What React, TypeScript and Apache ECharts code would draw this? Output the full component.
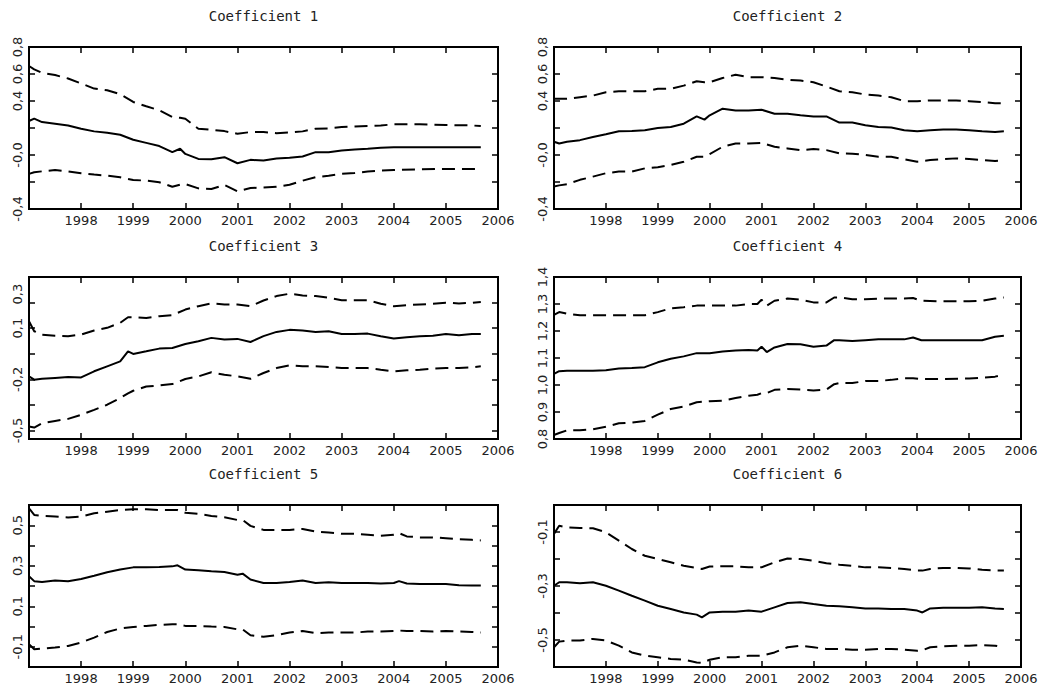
import React, { useEffect, useRef } from 'react';
import * as echarts from 'echarts';

// ---------- Coefficient 1 ----------
const dates1 = [1997.0, 1997.1, 1997.25, 1997.5, 1997.75, 1998.0, 1998.25, 1998.5, 1998.75, 1999.0, 1999.25, 1999.5, 1999.75, 1999.9, 2000.0, 2000.25, 2000.5, 2000.75, 2001.0, 2001.25, 2001.5, 2001.75, 2002.0, 2002.25, 2002.5, 2002.75, 2003.0, 2003.25, 2003.5, 2003.75, 2004.0, 2004.5, 2005.0, 2005.5, 2005.67];
const mid1 = [0.252, 0.269, 0.244, 0.232, 0.219, 0.195, 0.175, 0.165, 0.15, 0.113, 0.09, 0.066, 0.021, 0.046, 0.008, -0.029, -0.031, -0.016, -0.061, -0.036, -0.041, -0.026, -0.021, -0.011, 0.021, 0.021, 0.033, 0.041, 0.046, 0.053, 0.058, 0.058, 0.058, 0.058, 0.058];
const up1 = [0.659, 0.634, 0.609, 0.592, 0.567, 0.53, 0.492, 0.48, 0.45, 0.393, 0.361, 0.331, 0.281, 0.276, 0.269, 0.195, 0.187, 0.177, 0.157, 0.17, 0.17, 0.162, 0.167, 0.175, 0.195, 0.197, 0.207, 0.212, 0.214, 0.219, 0.227, 0.227, 0.222, 0.219, 0.214];
const lo1 = [-0.14, -0.128, -0.121, -0.111, -0.121, -0.135, -0.145, -0.153, -0.165, -0.185, -0.19, -0.202, -0.235, -0.22, -0.215, -0.247, -0.252, -0.222, -0.269, -0.245, -0.24, -0.235, -0.22, -0.19, -0.165, -0.153, -0.14, -0.133, -0.123, -0.116, -0.111, -0.106, -0.103, -0.103, -0.103];

// ---------- Coefficient 2 ----------
const dates2 = [1997.0, 1997.1, 1997.25, 1997.5, 1997.75, 1998.0, 1998.25, 1998.5, 1998.75, 1999.0, 1999.25, 1999.5, 1999.75, 1999.9, 2000.0, 2000.25, 2000.5, 2000.75, 2001.0, 2001.25, 2001.5, 2001.75, 2002.0, 2002.25, 2002.5, 2002.75, 2003.0, 2003.25, 2003.5, 2003.75, 2004.0, 2004.25, 2004.5, 2004.75, 2005.0, 2005.25, 2005.5, 2005.67];
const mid2 = [0.098, 0.085, 0.098, 0.11, 0.134, 0.154, 0.176, 0.178, 0.183, 0.2, 0.208, 0.232, 0.286, 0.262, 0.294, 0.343, 0.33, 0.33, 0.335, 0.306, 0.306, 0.294, 0.286, 0.286, 0.24, 0.24, 0.22, 0.208, 0.203, 0.183, 0.176, 0.183, 0.188, 0.188, 0.183, 0.176, 0.171, 0.176];
const up2 = [0.416, 0.416, 0.416, 0.428, 0.44, 0.465, 0.472, 0.472, 0.472, 0.49, 0.49, 0.514, 0.546, 0.539, 0.539, 0.57, 0.595, 0.576, 0.576, 0.57, 0.558, 0.551, 0.539, 0.507, 0.472, 0.465, 0.448, 0.44, 0.428, 0.399, 0.399, 0.404, 0.404, 0.404, 0.399, 0.392, 0.384, 0.384];
const lo2 = [-0.233, -0.225, -0.216, -0.184, -0.16, -0.135, -0.123, -0.123, -0.099, -0.091, -0.074, -0.05, -0.013, -0.013, 0.007, 0.061, 0.085, 0.085, 0.09, 0.061, 0.049, 0.036, 0.044, 0.036, 0.012, 0.01, 0.0, -0.013, -0.013, -0.032, -0.05, -0.037, -0.03, -0.025, -0.03, -0.037, -0.045, -0.04];

// ---------- Coefficient 3 ----------
const dates3 = [1997.0, 1997.1, 1997.25, 1997.5, 1997.75, 1998.0, 1998.25, 1998.5, 1998.75, 1998.9, 1999.0, 1999.25, 1999.5, 1999.75, 2000.0, 2000.25, 2000.5, 2000.75, 2001.0, 2001.25, 2001.5, 2001.75, 2002.0, 2002.25, 2002.5, 2002.75, 2003.0, 2003.25, 2003.5, 2003.75, 2004.0, 2004.25, 2004.5, 2004.75, 2005.0, 2005.25, 2005.5, 2005.67];
const mid3 = [-0.183, -0.202, -0.197, -0.192, -0.187, -0.189, -0.153, -0.124, -0.095, -0.036, -0.051, -0.036, -0.02, -0.016, 0.007, 0.023, 0.043, 0.033, 0.037, 0.019, 0.053, 0.078, 0.09, 0.086, 0.078, 0.082, 0.066, 0.066, 0.068, 0.053, 0.039, 0.047, 0.053, 0.056, 0.066, 0.058, 0.066, 0.066];
const up3 = [0.14, 0.082, 0.062, 0.056, 0.053, 0.062, 0.086, 0.102, 0.131, 0.164, 0.164, 0.16, 0.17, 0.176, 0.209, 0.229, 0.245, 0.239, 0.239, 0.229, 0.262, 0.288, 0.302, 0.292, 0.288, 0.278, 0.264, 0.264, 0.264, 0.243, 0.229, 0.235, 0.239, 0.243, 0.249, 0.245, 0.249, 0.253];
const lo3 = [-0.477, -0.483, -0.457, -0.444, -0.432, -0.408, -0.379, -0.349, -0.31, -0.282, -0.267, -0.242, -0.236, -0.228, -0.198, -0.183, -0.159, -0.173, -0.183, -0.197, -0.163, -0.134, -0.118, -0.124, -0.124, -0.128, -0.134, -0.134, -0.134, -0.144, -0.153, -0.147, -0.144, -0.138, -0.134, -0.134, -0.13, -0.124];

// ---------- Coefficient 4 ----------
const dates4 = [1997.0, 1997.1, 1997.25, 1997.5, 1997.75, 1998.0, 1998.25, 1998.5, 1998.75, 1999.0, 1999.25, 1999.5, 1999.75, 2000.0, 2000.25, 2000.5, 2000.75, 2000.92, 2001.0, 2001.1, 2001.25, 2001.5, 2001.75, 2002.0, 2002.25, 2002.4, 2002.5, 2002.75, 2003.0, 2003.25, 2003.5, 2003.75, 2003.92, 2004.08, 2004.5, 2005.0, 2005.25, 2005.5, 2005.67];
const mid4 = [1.041, 1.051, 1.053, 1.053, 1.053, 1.055, 1.061, 1.063, 1.066, 1.084, 1.097, 1.106, 1.118, 1.118, 1.124, 1.128, 1.13, 1.128, 1.142, 1.122, 1.139, 1.152, 1.151, 1.142, 1.146, 1.166, 1.166, 1.163, 1.166, 1.169, 1.169, 1.169, 1.176, 1.166, 1.166, 1.166, 1.166, 1.179, 1.182];
const up4 = [1.26, 1.27, 1.264, 1.258, 1.258, 1.258, 1.258, 1.258, 1.258, 1.27, 1.284, 1.288, 1.294, 1.294, 1.294, 1.294, 1.3, 1.3, 1.316, 1.294, 1.312, 1.32, 1.316, 1.306, 1.306, 1.324, 1.324, 1.318, 1.318, 1.32, 1.32, 1.32, 1.322, 1.312, 1.31, 1.31, 1.312, 1.32, 1.324];
const lo4 = [0.815, 0.822, 0.832, 0.832, 0.836, 0.845, 0.858, 0.861, 0.867, 0.89, 0.911, 0.92, 0.936, 0.94, 0.942, 0.952, 0.96, 0.964, 0.97, 0.97, 0.982, 0.985, 0.983, 0.98, 0.983, 1.003, 1.007, 1.007, 1.015, 1.015, 1.019, 1.025, 1.025, 1.022, 1.022, 1.024, 1.027, 1.031, 1.039];

// ---------- Coefficient 5 ----------
const dates5 = [1997.0, 1997.1, 1997.25, 1997.5, 1997.75, 1998.0, 1998.25, 1998.5, 1998.75, 1999.0, 1999.25, 1999.5, 1999.75, 1999.85, 2000.0, 2000.25, 2000.5, 2000.75, 2001.0, 2001.1, 2001.25, 2001.5, 2001.75, 2002.0, 2002.25, 2002.5, 2002.75, 2003.0, 2003.25, 2003.5, 2003.75, 2004.0, 2004.1, 2004.25, 2004.5, 2004.75, 2005.0, 2005.25, 2005.5, 2005.67];
const mid5 = [0.248, 0.224, 0.22, 0.227, 0.224, 0.235, 0.251, 0.268, 0.281, 0.292, 0.292, 0.294, 0.297, 0.302, 0.281, 0.278, 0.273, 0.269, 0.256, 0.261, 0.232, 0.215, 0.215, 0.22, 0.227, 0.215, 0.219, 0.215, 0.215, 0.215, 0.212, 0.215, 0.224, 0.212, 0.21, 0.21, 0.21, 0.204, 0.202, 0.202];
const up5 = [0.584, 0.551, 0.546, 0.543, 0.538, 0.543, 0.559, 0.567, 0.575, 0.579, 0.579, 0.575, 0.575, 0.575, 0.562, 0.556, 0.546, 0.539, 0.526, 0.526, 0.497, 0.477, 0.477, 0.477, 0.482, 0.469, 0.464, 0.458, 0.458, 0.453, 0.448, 0.453, 0.461, 0.445, 0.44, 0.44, 0.436, 0.431, 0.428, 0.425];
const lo5 = [-0.087, -0.112, -0.109, -0.104, -0.096, -0.079, -0.055, -0.027, -0.01, -0.002, 0.003, 0.008, 0.011, 0.011, 0.003, 0.003, 0.0, -0.002, -0.014, -0.014, -0.043, -0.051, -0.043, -0.03, -0.022, -0.033, -0.03, -0.03, -0.03, -0.025, -0.025, -0.022, -0.02, -0.022, -0.022, -0.025, -0.022, -0.025, -0.027, -0.03];

// ---------- Coefficient 6 ----------
const dates6 = [1997.0, 1997.1, 1997.25, 1997.5, 1997.75, 1998.0, 1998.25, 1998.5, 1998.75, 1999.0, 1999.25, 1999.5, 1999.75, 1999.85, 2000.0, 2000.25, 2000.5, 2000.75, 2001.0, 2001.25, 2001.5, 2001.75, 2002.0, 2002.25, 2002.5, 2002.75, 2003.0, 2003.25, 2003.5, 2003.75, 2004.0, 2004.1, 2004.25, 2004.5, 2004.75, 2005.0, 2005.25, 2005.5, 2005.67];
const mid6 = [-0.299, -0.286, -0.286, -0.29, -0.286, -0.299, -0.317, -0.336, -0.354, -0.373, -0.385, -0.398, -0.406, -0.416, -0.398, -0.395, -0.395, -0.391, -0.395, -0.379, -0.363, -0.36, -0.367, -0.373, -0.375, -0.379, -0.383, -0.383, -0.385, -0.385, -0.391, -0.398, -0.383, -0.381, -0.381, -0.381, -0.379, -0.383, -0.385];
const up6 = [-0.107, -0.077, -0.083, -0.085, -0.086, -0.101, -0.132, -0.163, -0.188, -0.2, -0.212, -0.225, -0.233, -0.237, -0.228, -0.227, -0.227, -0.231, -0.231, -0.212, -0.198, -0.2, -0.206, -0.216, -0.221, -0.225, -0.231, -0.231, -0.233, -0.237, -0.243, -0.243, -0.237, -0.233, -0.233, -0.235, -0.24, -0.243, -0.243];
const lo6 = [-0.527, -0.506, -0.502, -0.502, -0.496, -0.502, -0.521, -0.546, -0.558, -0.564, -0.57, -0.573, -0.583, -0.585, -0.573, -0.564, -0.564, -0.558, -0.558, -0.546, -0.527, -0.521, -0.527, -0.533, -0.533, -0.536, -0.536, -0.533, -0.533, -0.536, -0.54, -0.538, -0.527, -0.523, -0.521, -0.521, -0.519, -0.521, -0.527];

// ---------- Axes ----------
const titles = ['Coefficient 1', 'Coefficient 2', 'Coefficient 3', 'Coefficient 4', 'Coefficient 5', 'Coefficient 6'];
const xMin = 1997;
const xMax = 2006;
const yMins = [-0.4, -0.4, -0.55, 0.8, -0.2, -0.6];
const yMaxs = [0.8, 0.8, 0.4, 1.4, 0.6, 0.0];
const yTicks = [
  [-0.2, 0, 0.2, 0.4, 0.6],
  [-0.2, 0, 0.2, 0.4, 0.6],
  [-0.5, -0.35, -0.2, -0.05, 0.1, 0.25],
  [0.9, 1.0, 1.1, 1.2, 1.3],
  [-0.1, 0, 0.1, 0.2, 0.3, 0.4, 0.5],
  [-0.5, -0.4, -0.3, -0.2, -0.1],
];
const yLabelVals = [
  [-0.4, 0, 0.4, 0.6, 0.8],
  [-0.4, 0, 0.4, 0.6, 0.8],
  [-0.5, -0.2, 0.1, 0.3],
  [0.8, 0.9, 1.0, 1.1, 1.2, 1.3, 1.4],
  [-0.1, 0.1, 0.3, 0.5],
  [-0.5, -0.3, -0.1],
];
const yLabelText = [
  ['-0,4', '-0,0', '0,4', '0,6', '0,8'],
  ['-0,4', '-0,0', '0,4', '0,6', '0,8'],
  ['-0,5', '-0,2', '0,1', '0,3'],
  ['0,8', '0,9', '1,0', '1,1', '1,2', '1,3', '1,4'],
  ['-0,1', '0,1', '0,3', '0,5'],
  ['-0,5', '-0,3', '-0,1'],
];

const seriesDates = [dates1, dates2, dates3, dates4, dates5, dates6];
const seriesMid = [mid1, mid2, mid3, mid4, mid5, mid6];
const seriesUp = [up1, up2, up3, up4, up5, up6];
const seriesLo = [lo1, lo2, lo3, lo4, lo5, lo6];

// layout (pixels)
const colLeft = [29, 554];
const colWidth = [469, 467];
const rowTop = [47, 277, 505];
const panelHeight = 162;

const FONT = "'DejaVu Sans', sans-serif";
const TEXT = '#222';

export default function App() {
  const ref = useRef<HTMLDivElement>(null);

  useEffect(() => {
    if (!ref.current) return;
    const chart = echarts.init(ref.current, null, { renderer: 'svg' });

    const grids: any[] = [];
    const xAxes: any[] = [];
    const yAxes: any[] = [];
    const series: any[] = [];
    const titleOpts: any[] = [];

    for (let i = 0; i < 6; i++) {
      const col = i % 2;
      const row = Math.floor(i / 2);
      const left = colLeft[col];
      const width = colWidth[col];
      const top = rowTop[row];
      grids.push({ left, top, width, height: panelHeight, show: false, containLabel: false });
      titleOpts.push({
        text: titles[i],
        left: left + width / 2,
        top: top - 38,
        textAlign: 'center',
        padding: 0,
        textStyle: { fontFamily: "'DejaVu Sans Mono', monospace", fontSize: 14, fontWeight: 'normal', color: TEXT },
      });
      const tickStyle = { show: true, inside: true, length: 6, lineStyle: { color: '#000', width: 1.5 } };
      const boxLine = { show: true, onZero: false, lineStyle: { color: '#000', width: 2, cap: 'square' } };
      xAxes.push({
        type: 'value', gridIndex: i, position: 'bottom', min: xMin, max: xMax, interval: 1,
        axisLine: boxLine, splitLine: { show: false },
        axisTick: tickStyle,
        axisLabel: {
          margin: 5, fontFamily: FONT, fontSize: 13, color: TEXT,
          formatter: (v: number) => (Math.abs(v - xMin) < 1e-6 ? '' : String(Math.round(v))),
        },
      });
      xAxes.push({
        type: 'value', gridIndex: i, position: 'top', min: xMin, max: xMax, interval: 1,
        axisLine: boxLine, splitLine: { show: false },
        axisTick: tickStyle, axisLabel: { show: false },
      });
      const lv = yLabelVals[i];
      const lt = yLabelText[i];
      yAxes.push({
        type: 'value', gridIndex: i, position: 'left', min: yMins[i], max: yMaxs[i],
        axisLine: boxLine, splitLine: { show: false },
        axisTick: { ...tickStyle, customValues: yTicks[i] },
        axisLabel: {
          customValues: lv, rotate: 90, margin: 5, fontFamily: FONT, fontSize: 13, color: TEXT,
          formatter: (v: number) => {
            for (let k = 0; k < lv.length; k++) if (Math.abs(lv[k] - v) < 1e-6) return lt[k];
            return '';
          },
        },
      });
      yAxes.push({
        type: 'value', gridIndex: i, position: 'right', min: yMins[i], max: yMaxs[i],
        axisLine: boxLine, splitLine: { show: false },
        axisTick: { ...tickStyle, customValues: yTicks[i] }, axisLabel: { show: false },
      });
      const d = seriesDates[i];
      const mk = (vals: number[]) => d.map((x, k) => [x, vals[k]]);
      const base = {
        type: 'line', xAxisIndex: 2 * i, yAxisIndex: 2 * i, showSymbol: false, symbol: 'none',
        silent: true, clip: true,
      };
      series.push({ ...base, name: `up${i + 1}`, data: mk(seriesUp[i]), lineStyle: { color: '#000', width: 2, type: [13, 7] } });
      series.push({ ...base, name: `mid${i + 1}`, data: mk(seriesMid[i]), lineStyle: { color: '#000', width: 2, type: 'solid' } });
      series.push({ ...base, name: `lo${i + 1}`, data: mk(seriesLo[i]), lineStyle: { color: '#000', width: 2, type: [13, 7] } });
    }

    chart.setOption({
      animation: false,
      backgroundColor: '#fff',
      title: titleOpts,
      grid: grids,
      xAxis: xAxes,
      yAxis: yAxes,
      series,
    });
    return () => chart.dispose();
  }, []);

  return (
    <div
      ref={ref}
      style={{ position: 'fixed', left: 0, top: 0, width: 1058, height: 686, background: '#fff' }}
    />
  );
}
